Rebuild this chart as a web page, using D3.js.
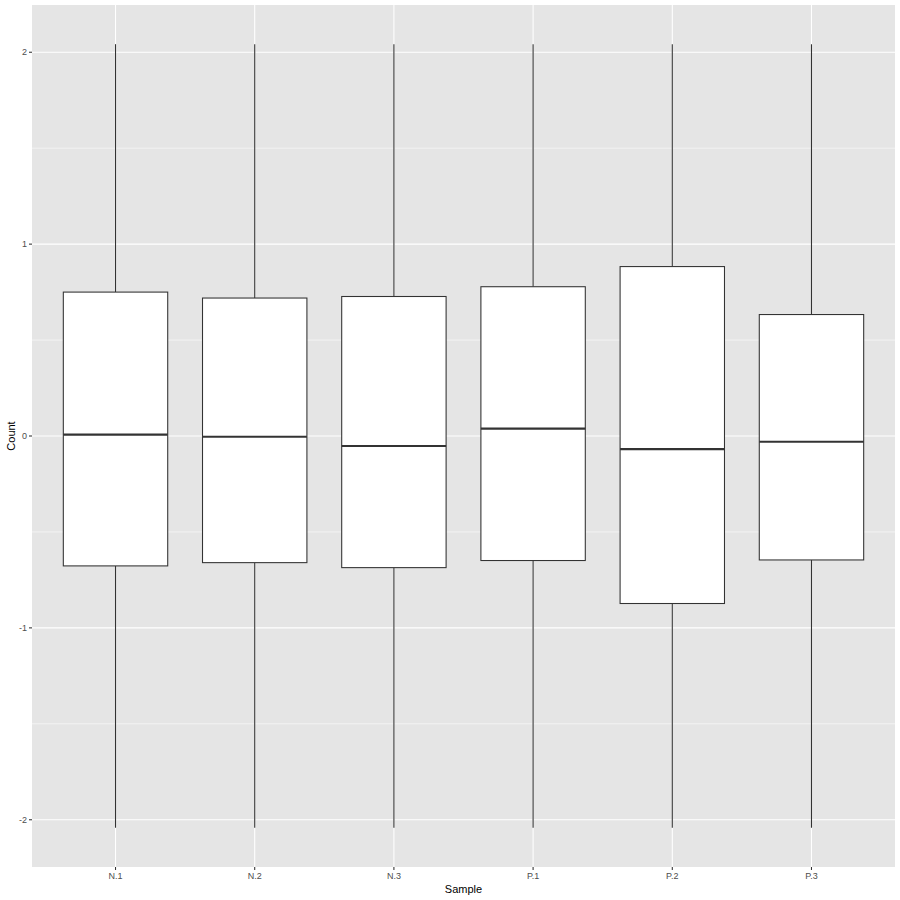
<!DOCTYPE html>
<html>
<head>
<meta charset="utf-8">
<script src="https://cdn.jsdelivr.net/npm/d3@7"></script>
<style>
  html, body { margin: 0; padding: 0; background: #ffffff; }
  svg { display: block; }
  text { font-family: "Liberation Sans", Arial, Helvetica, sans-serif; }
</style>
</head>
<body>
<svg id="chart" width="900" height="900"></svg>
<script>
// ---- data ----
const samples   = ["N.1", "N.2", "N.3", "P.1", "P.2", "P.3"];
const whiskerLo = [-2.042, -2.042, -2.042, -2.042, -2.042, -2.042];
const q1        = [-0.677, -0.660, -0.686, -0.649, -0.873, -0.646];
const medians   = [0.007, -0.004, -0.052, 0.038, -0.068, -0.030];
const q3        = [0.750, 0.719, 0.727, 0.778, 0.883, 0.633];
const whiskerHi = [2.042, 2.042, 2.042, 2.042, 2.042, 2.042];
const yTicks    = [-2, -1, 0, 1, 2];
const yMinor    = [-1.5, -0.5, 0.5, 1.5];
const xTitle    = "Sample";
const yTitle    = "Count";

const rows = samples.map((s, i) => ({
  s, lo: whiskerLo[i], q1: q1[i], med: medians[i], q3: q3[i], hi: whiskerHi[i]
}));

// ---- layout ----
const panel = { left: 32, top: 5, right: 895, bottom: 867 };
const svg = d3.select("#chart");

const dataMin = d3.min(whiskerLo), dataMax = d3.max(whiskerHi);
const pad = (dataMax - dataMin) * 0.05;
const y = d3.scaleLinear()
  .domain([dataMin - pad, dataMax + pad])
  .range([panel.bottom, panel.top]);

// discrete x: positions 1..n with 0.6 expansion on each side
const xc = d3.scaleLinear()
  .domain([0.4, samples.length + 0.6])
  .range([panel.left, panel.right]);
const x = s => xc(samples.indexOf(s) + 1);
const unit = xc(2) - xc(1);
const boxW = unit * 0.75;

// panel background
svg.append("rect")
  .attr("x", panel.left).attr("y", panel.top)
  .attr("width", panel.right - panel.left)
  .attr("height", panel.bottom - panel.top)
  .attr("fill", "#E5E5E5");

// minor gridlines
svg.append("g").selectAll("line").data(yMinor).join("line")
  .attr("x1", panel.left).attr("x2", panel.right)
  .attr("y1", d => y(d)).attr("y2", d => y(d))
  .attr("stroke", "#ffffff").attr("stroke-width", 0.55);

// major gridlines
svg.append("g").selectAll("line").data(yTicks).join("line")
  .attr("x1", panel.left).attr("x2", panel.right)
  .attr("y1", d => y(d)).attr("y2", d => y(d))
  .attr("stroke", "#ffffff").attr("stroke-width", 1.07);
svg.append("g").selectAll("line").data(samples).join("line")
  .attr("x1", d => x(d)).attr("x2", d => x(d))
  .attr("y1", panel.top).attr("y2", panel.bottom)
  .attr("stroke", "#ffffff").attr("stroke-width", 1.07);

// boxes
const g = svg.append("g");
const boxes = g.selectAll("g.box").data(rows).join("g").attr("class", "box");
boxes.append("line")
  .attr("x1", d => x(d.s)).attr("x2", d => x(d.s))
  .attr("y1", d => y(d.hi)).attr("y2", d => y(d.q3))
  .attr("stroke", "#333333").attr("stroke-width", 1.07);
boxes.append("line")
  .attr("x1", d => x(d.s)).attr("x2", d => x(d.s))
  .attr("y1", d => y(d.q1)).attr("y2", d => y(d.lo))
  .attr("stroke", "#333333").attr("stroke-width", 1.07);
boxes.append("rect")
  .attr("x", d => x(d.s) - boxW / 2)
  .attr("y", d => y(d.q3))
  .attr("width", boxW)
  .attr("height", d => y(d.q1) - y(d.q3))
  .attr("fill", "#ffffff")
  .attr("stroke", "#333333").attr("stroke-width", 1.07);
boxes.append("line")
  .attr("x1", d => x(d.s) - boxW / 2).attr("x2", d => x(d.s) + boxW / 2)
  .attr("y1", d => y(d.med)).attr("y2", d => y(d.med))
  .attr("stroke", "#333333").attr("stroke-width", 2.2);

// y axis ticks & labels
const ya = svg.append("g");
ya.selectAll("line").data(yTicks).join("line")
  .attr("x1", panel.left - 3).attr("x2", panel.left)
  .attr("y1", d => y(d)).attr("y2", d => y(d))
  .attr("stroke", "#333333").attr("stroke-width", 1.07);
ya.selectAll("text").data(yTicks).join("text")
  .attr("x", panel.left - 5).attr("y", d => y(d))
  .attr("dy", "0.35em")
  .attr("text-anchor", "end")
  .attr("font-size", 9)
  .attr("fill", "#4D4D4D")
  .text(d => d3.format("d")(d).replace("\u2212", "-"));

// x axis ticks & labels
const xa = svg.append("g");
xa.selectAll("line").data(samples).join("line")
  .attr("x1", d => x(d)).attr("x2", d => x(d))
  .attr("y1", panel.bottom).attr("y2", panel.bottom + 3)
  .attr("stroke", "#333333").attr("stroke-width", 1.07);
xa.selectAll("text").data(samples).join("text")
  .attr("x", d => x(d)).attr("y", panel.bottom + 12)
  .attr("text-anchor", "middle")
  .attr("font-size", 9)
  .attr("fill", "#4D4D4D")
  .text(d => d);

// axis titles
svg.append("text")
  .attr("x", (panel.left + panel.right) / 2).attr("y", 893)
  .attr("text-anchor", "middle")
  .attr("font-size", 11).attr("fill", "#000000")
  .text(xTitle);
svg.append("text")
  .attr("transform", `translate(15,${(panel.top + panel.bottom) / 2}) rotate(-90)`)
  .attr("text-anchor", "middle")
  .attr("font-size", 11).attr("fill", "#000000")
  .text(yTitle);
</script>
</body>
</html>
